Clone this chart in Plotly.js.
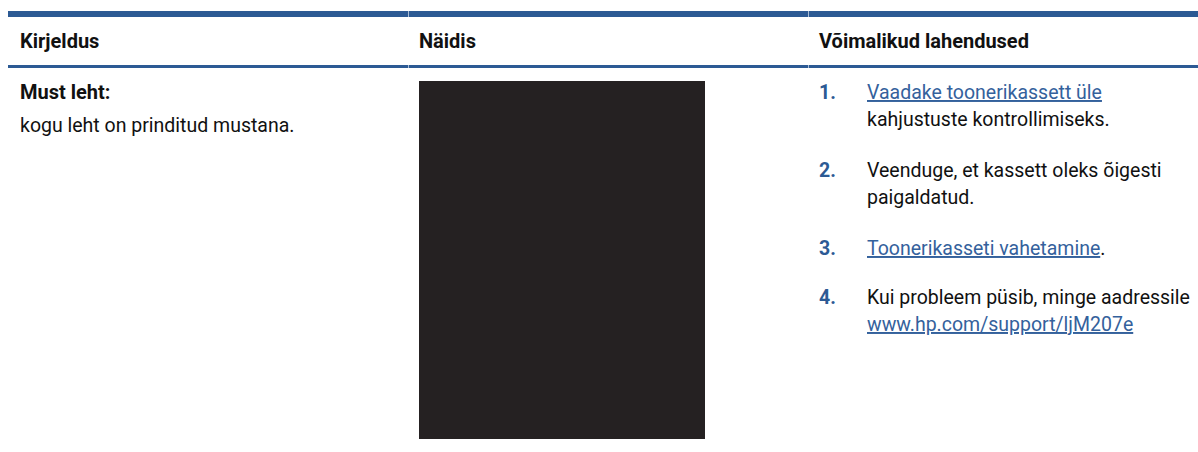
<!DOCTYPE html>
<html><head><meta charset="utf-8">
<script src="https://cdn.plot.ly/plotly-3.0.1.min.js"></script>
<style>html,body{margin:0;padding:0;background:#fff}#c{width:1198px;height:452px}</style>
</head><body><div id="c"></div>
<script>
// Table content
const headers = ["Kirjeldus", "Näidis", "Võimalikud lahendused"];
const descTitle = "Must leht:";
const descText = "kogu leht on prinditud mustana.";
const stepNumbers = ["1.", "2.", "3.", "4."];
const stepLines = [
  ["<u>Vaadake toonerikassett üle</u>", "kahjustuste kontrollimiseks."],
  ["Veenduge, et kassett oleks õigesti", "paigaldatud."],
  ["<u>Toonerikasseti vahetamine</u><span style='color:#111'>.</span>"],
  ["Kui probleem püsib, minge aadressile", "<u>www.hp.com/support/ljM207e</u>"]
];
const stepIsLink = [[true,false],[false,false],[true],[false,true]];

const W = 1198, H = 452;
const BLUE = "#2c5a94", LINK = "#34619c", TXT = "#111111";
const FONT = "Roboto, 'Liberation Sans', sans-serif";
const FS = 19.5;
const colX = [18, 417, 817];
const stepTextX = 865;
const stepY = [92, 170, 248, 297];
const lineGap = 27;

const annotations = [];
headers.forEach((h, i) => annotations.push({
  x: colX[i], y: 41, xref: "x", yref: "y", xanchor: "left", yanchor: "middle",
  text: "<b>" + h + "</b>", showarrow: false, font: {family: FONT, size: 20, color: TXT}
}));
annotations.push({x: colX[0], y: 92, xref: "x", yref: "y", xanchor: "left", yanchor: "middle",
  text: "<b>" + descTitle + "</b>", showarrow: false, font: {family: FONT, size: 20, color: TXT}});
annotations.push({x: colX[0], y: 125, xref: "x", yref: "y", xanchor: "left", yanchor: "middle",
  text: descText, showarrow: false, font: {family: FONT, size: FS, color: TXT}});
stepNumbers.forEach((n, i) => {
  annotations.push({x: colX[2], y: stepY[i], xref: "x", yref: "y", xanchor: "left", yanchor: "middle",
    text: "<b>" + n + "</b>", showarrow: false, font: {family: FONT, size: FS, color: BLUE}});
  stepLines[i].forEach((t, j) => annotations.push({
    x: stepTextX, y: stepY[i] + j * lineGap, xref: "x", yref: "y", xanchor: "left", yanchor: "middle",
    text: t, showarrow: false, font: {family: FONT, size: FS, color: stepIsLink[i][j] ? LINK : TXT}
  }));
});

const shapes = [
  {type: "rect", xref: "x", yref: "y", x0: 8, x1: W, y0: 11, y1: 17, fillcolor: BLUE, line: {width: 0}},
  {type: "rect", xref: "x", yref: "y", x0: 8, x1: W, y0: 65, y1: 68, fillcolor: BLUE, line: {width: 0}},
  {type: "line", xref: "x", yref: "y", x0: 408.5, x1: 408.5, y0: 11, y1: 68, line: {color: "rgba(255,255,255,0.6)", width: 1}},
  {type: "line", xref: "x", yref: "y", x0: 808.5, x1: 808.5, y0: 11, y1: 68, line: {color: "rgba(255,255,255,0.6)", width: 1}},
  {type: "rect", xref: "x", yref: "y", x0: 419, x1: 705, y0: 81, y1: 439, fillcolor: "#252122", line: {width: 0}}
];

Plotly.newPlot("c", [], {
  width: W, height: H, margin: {l: 0, r: 0, t: 0, b: 0},
  paper_bgcolor: "#fff", plot_bgcolor: "#fff", showlegend: false,
  xaxis: {range: [0, W], visible: false, fixedrange: true},
  yaxis: {range: [H, 0], visible: false, fixedrange: true},
  shapes: shapes, annotations: annotations
}, {staticPlot: true});
</script></body></html>
